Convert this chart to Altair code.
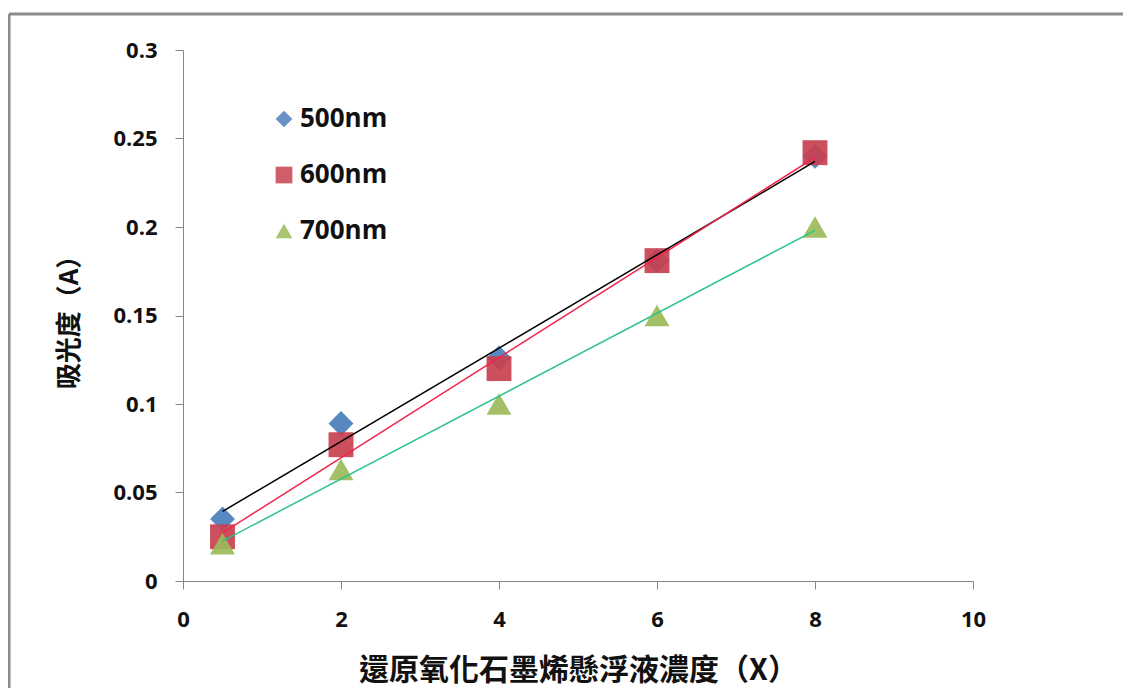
import altair as alt
import pandas as pd

concentration = [0.5, 2, 4, 6, 8]
abs_500 = [0.035, 0.089, 0.126, 0.181, 0.240]
abs_600 = [0.025, 0.077, 0.120, 0.181, 0.242]
abs_700 = [0.021, 0.063, 0.100, 0.150, 0.200]
series_names = ["500nm", "600nm", "700nm"]
marker_colors = ["#4A7EBB", "#C8404F", "#9BBB59"]
trend_colors = ["#000000", "#F0244C", "#2DC28A"]
shapes = ["diamond", "square", "triangle-up"]
x_ticks = [0, 2, 4, 6, 8, 10]
y_ticks = [0, 0.05, 0.1, 0.15, 0.2, 0.25, 0.3]

rows = []
for name, vals in zip(series_names, [abs_500, abs_600, abs_700]):
    for x, y in zip(concentration, vals):
        rows.append({"x": x, "y": y, "series": name})
df = pd.DataFrame(rows)

xs = alt.X("x:Q", scale=alt.Scale(domain=[0, 10]),
           axis=alt.Axis(values=x_ticks, title="還原氧化石墨烯懸浮液濃度（X）", format="d",
                         labelFlush=False))
ys = alt.Y("y:Q", scale=alt.Scale(domain=[0, 0.3]),
           axis=alt.Axis(values=y_ticks, title="吸光度（A）", format="~g", labelFlush=False))

base = alt.Chart(df)

points = base.mark_point(filled=True, opacity=0.92, size=620, strokeWidth=0).encode(
    x=xs, y=ys,
    color=alt.Color("series:N", scale=alt.Scale(domain=series_names, range=marker_colors),
                    legend=alt.Legend(title=None, orient="none", legendX=88, legendY=56,
                                      labelFontSize=26, labelFont="Open Sans", labelFontWeight="bold",
                                      labelColor="#111111", symbolSize=280, rowPadding=30,
                                      labelOffset=3, symbolOpacity=0.9, symbolStrokeWidth=0)),
    shape=alt.Shape("series:N", scale=alt.Scale(domain=series_names, range=shapes)),
    order=alt.Order("series:N"),
)

trend = base.transform_regression("x", "y", groupby=["series"], extent=[0.5, 8]).mark_line(
    strokeWidth=1.5
).encode(
    x="x:Q", y="y:Q",
    stroke=alt.Stroke("series:N", scale=alt.Scale(domain=series_names, range=trend_colors), legend=None),
)

frame_top = alt.Chart(pd.DataFrame({"a": [0]})).mark_rule(color="#8a8a8a", strokeWidth=3).encode(
    x=alt.value(-174), x2=alt.value(1000), y=alt.value(-36))
frame_left = alt.Chart(pd.DataFrame({"a": [0]})).mark_rule(color="#8a8a8a", strokeWidth=3).encode(
    x=alt.value(-174), y=alt.value(-36), y2=alt.value(700))

chart = alt.layer(points, trend, frame_top, frame_left).properties(
    width=790, height=531,
    autosize=alt.AutoSizeParams(type="none"),
    padding={"left": 175, "top": 42, "right": 150, "bottom": 107},
).configure_view(stroke=None).configure_axis(
    grid=False, domainColor="#868686", tickColor="#868686", tickSize=8,
    labelFont="Open Sans", labelFontWeight="bold", labelFontSize=22, labelColor="#111111",
    titleFont="Noto Sans CJK TC", titleFontWeight="bold", titleColor="#111111",
).configure_axisX(labelPadding=20, titlePadding=25, titleFontSize=30).configure_axisY(
    labelPadding=18, titlePadding=30, titleFontSize=26)

chart.save("out.html", embed_options={"renderer": "svg", "actions": False})
